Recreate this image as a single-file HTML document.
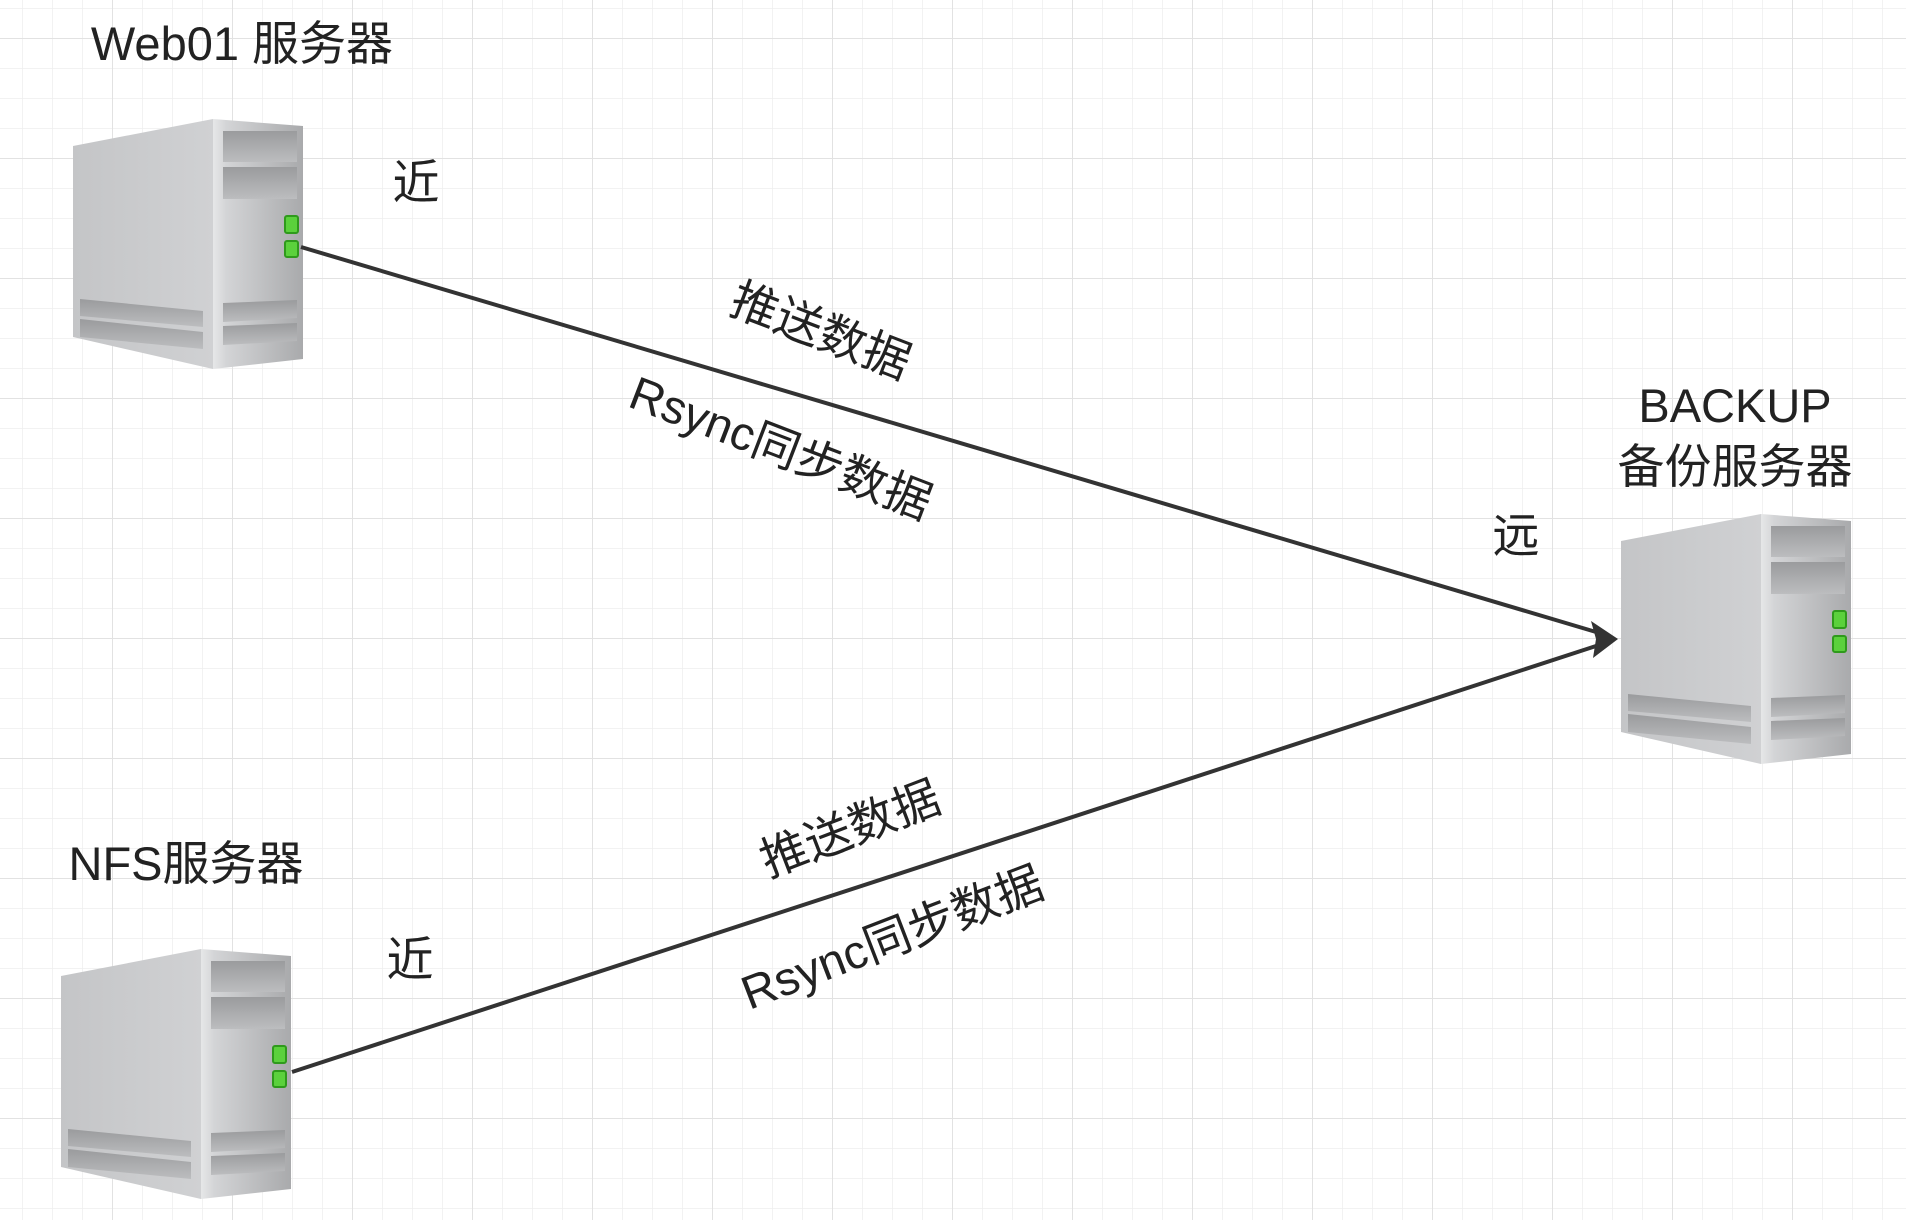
<!DOCTYPE html>
<html><head><meta charset="utf-8"><style>
html,body{margin:0;padding:0;background:#fff;}
body{width:1906px;height:1220px;overflow:hidden;position:relative;font-family:"Liberation Sans","Noto Sans CJK SC",sans-serif;color:#222;}
svg{position:absolute;left:0;top:0;}
</style></head><body>
<svg width="1906" height="1220" viewBox="0 0 1906 1220" xmlns="http://www.w3.org/2000/svg">
<defs>
<pattern id="minor" x="22" y="8" width="30" height="30" patternUnits="userSpaceOnUse">
<path d="M0 0H30M0 0V30" stroke="#eeeeee" stroke-width="1.5" fill="none"/>
</pattern>
<pattern id="major" x="112" y="38" width="120" height="120" patternUnits="userSpaceOnUse">
<path d="M0 0H120M0 0V120" stroke="#e2e2e2" stroke-width="2" fill="none"/>
</pattern>
<linearGradient id="lf" x1="0" x2="1" y1="0" y2="0"><stop offset="0" stop-color="#c4c5c7"/><stop offset="1" stop-color="#d0d1d3"/></linearGradient>
<linearGradient id="rf" x1="0" x2="1" y1="0" y2="0"><stop offset="0" stop-color="#e6e7e8"/><stop offset="0.15" stop-color="#d3d4d6"/><stop offset="1" stop-color="#a9aaac"/></linearGradient>
<linearGradient id="slot" x1="0" x2="0" y1="0" y2="1"><stop offset="0" stop-color="#9a9b9d"/><stop offset="1" stop-color="#bcbdbf"/></linearGradient>
<g id="srv">
<polygon points="0,27 140,0 140,250 0,218" fill="url(#lf)"/>
<polygon points="140,0 230,7 230,240 140,250" fill="url(#rf)"/>
<rect x="150" y="12" width="74" height="31" fill="url(#slot)"/>
<rect x="150" y="48" width="74" height="32" fill="url(#slot)"/>
<rect x="212" y="97" width="13" height="17" rx="2" fill="#5bd13c" stroke="#2f9a1c" stroke-width="2"/>
<rect x="212" y="122" width="13" height="16" rx="2" fill="#5bd13c" stroke="#2f9a1c" stroke-width="2"/>
<polygon points="150,184 224,181 224,199 150,203" fill="url(#slot)"/>
<polygon points="150,207 224,204 224,222 150,226" fill="url(#slot)"/>
<polygon points="7,180 130,192 130,208 7,197" fill="url(#slot)"/>
<polygon points="7,200 130,213 130,230 7,218" fill="url(#slot)"/>
</g>
</defs>
<rect width="1906" height="1220" fill="url(#minor)"/>
<rect width="1906" height="1220" fill="url(#major)"/>
<use href="#srv" x="73" y="119"/>
<use href="#srv" x="61" y="949"/>
<use href="#srv" x="1621" y="514"/>
<line x1="301" y1="247" x2="1596" y2="632" stroke="#333" stroke-width="4"/>
<line x1="292" y1="1072" x2="1596" y2="646" stroke="#333" stroke-width="4"/>
<polygon points="1618,639 1591,621 1596,639 1593,658" fill="#333"/>
<g font-size="47" fill="#222" text-anchor="middle" font-family="Liberation Sans, Noto Sans CJK SC, sans-serif">
<text x="242" y="60">Web01 服务器</text>
<text x="186" y="880">NFS服务器</text>
<text x="1735" y="422">BACKUP</text>
<text x="1735" y="483">备份服务器</text>
<text x="416" y="199">近</text>
<text x="410" y="976">近</text>
<text x="1516" y="552">远</text>
<text transform="translate(815,346) rotate(21)">推送数据</text>
<text transform="translate(775,463) rotate(21)">Rsync同步数据</text>
<text transform="translate(856,844) rotate(-21)">推送数据</text>
<text transform="translate(898,953) rotate(-21)">Rsync同步数据</text>
</g>
</svg>
</body></html>
